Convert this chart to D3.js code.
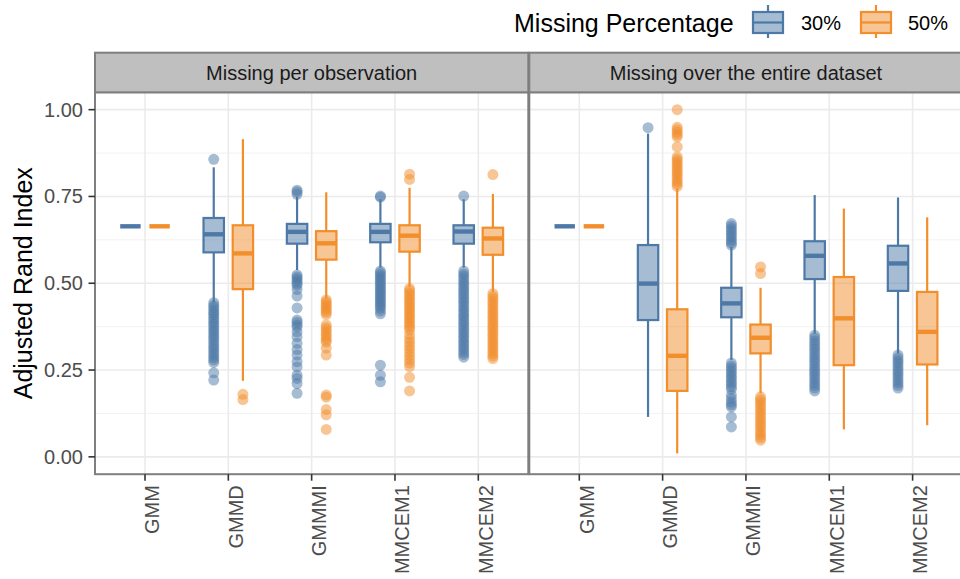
<!DOCTYPE html>
<html>
<head>
<meta charset="utf-8">
<script src="https://cdn.jsdelivr.net/npm/d3@7"></script>
<style>
    body { margin: 0; background: #ffffff; }
    text { font-family: "Liberation Sans", Arial, sans-serif; }
</style>
</head>
<body>
<div id="chart"></div>
<script>
// categories / labels
var methods = ["GMM", "GMMD", "GMMMI", "MMCEM1", "MMCEM2"];
var panels = ["Missing per observation", "Missing over the entire dataset"];
var groups = ["30%", "50%"];
var yTicks = [0, 0.25, 0.5, 0.75, 1];
var yMinor = [0.125, 0.375, 0.625, 0.875];

// box stats per method: [lower whisker, q1, median, q3, upper whisker]
var perObs30 = [
    [0.664, 0.664, 0.664, 0.664, 0.664],
    [0.445, 0.589, 0.641, 0.688, 0.834],
    [0.538, 0.614, 0.648, 0.671, 0.749],
    [0.545, 0.618, 0.648, 0.671, 0.742],
    [0.545, 0.614, 0.649, 0.667, 0.742]
];
var perObs50 = [
    [0.664, 0.664, 0.664, 0.664, 0.664],
    [0.219, 0.483, 0.586, 0.667, 0.915],
    [0.456, 0.568, 0.615, 0.650, 0.762],
    [0.490, 0.591, 0.637, 0.667, 0.775],
    [0.475, 0.582, 0.629, 0.660, 0.757]
];
var whole30 = [
    [0.664, 0.664, 0.664, 0.664, 0.664],
    [0.115, 0.394, 0.499, 0.610, 0.931],
    [0.279, 0.402, 0.442, 0.487, 0.605],
    [0.355, 0.512, 0.579, 0.621, 0.754],
    [0.298, 0.478, 0.557, 0.608, 0.747]
];
var whole50 = [
    [0.664, 0.664, 0.664, 0.664, 0.664],
    [0.010, 0.190, 0.291, 0.425, 0.773],
    [0.183, 0.298, 0.343, 0.381, 0.487],
    [0.079, 0.264, 0.399, 0.518, 0.715],
    [0.091, 0.266, 0.360, 0.475, 0.690]
];

// outliers per method
var perObs30Out = [
    [],
    [0.857, 0.444, 0.436, 0.43, 0.422, 0.415, 0.41, 0.402, 0.395, 0.388, 0.381, 0.374, 0.366, 0.36,
        0.352, 0.345, 0.338, 0.33, 0.322, 0.315, 0.308, 0.3, 0.293, 0.286, 0.279, 0.272, 0.242, 0.221],
    [0.768, 0.763, 0.756, 0.524, 0.518, 0.512, 0.506, 0.5, 0.494, 0.482, 0.463, 0.429, 0.394, 0.388,
        0.38, 0.374, 0.36, 0.346, 0.327, 0.309, 0.293, 0.274, 0.259, 0.235, 0.226, 0.211, 0.183],
    [0.751, 0.748, 0.535, 0.53, 0.524, 0.518, 0.512, 0.506, 0.5, 0.494, 0.488, 0.482, 0.476, 0.47,
        0.464, 0.458, 0.452, 0.446, 0.44, 0.434, 0.428, 0.42, 0.412, 0.264, 0.235, 0.216],
    [0.751, 0.535, 0.527, 0.52, 0.512, 0.505, 0.497, 0.49, 0.482, 0.475, 0.467, 0.46, 0.452, 0.445,
        0.437, 0.43, 0.422, 0.415, 0.407, 0.4, 0.392, 0.385, 0.377, 0.37, 0.362, 0.355, 0.347, 0.34,
        0.332, 0.325, 0.317, 0.31, 0.302, 0.295, 0.287]
];
var perObs50Out = [
    [],
    [0.18, 0.165],
    [0.452, 0.446, 0.44, 0.434, 0.428, 0.422, 0.416, 0.41, 0.38, 0.372, 0.365, 0.358, 0.35, 0.343,
        0.336, 0.33, 0.313, 0.293, 0.178, 0.172, 0.136, 0.121, 0.079],
    [0.814, 0.799, 0.485, 0.478, 0.471, 0.464, 0.457, 0.45, 0.443, 0.436, 0.429, 0.422, 0.415, 0.408,
        0.401, 0.394, 0.387, 0.38, 0.373, 0.366, 0.352, 0.34, 0.33, 0.32, 0.31, 0.3, 0.29, 0.28, 0.27,
        0.26, 0.229, 0.19],
    [0.813, 0.47, 0.462, 0.455, 0.447, 0.44, 0.432, 0.425, 0.417, 0.41, 0.402, 0.395, 0.387, 0.38,
        0.372, 0.365, 0.357, 0.35, 0.342, 0.335, 0.327, 0.32, 0.312, 0.305, 0.297, 0.29, 0.283]
];
var whole30Out = [
    [],
    [0.948],
    [0.672, 0.665, 0.658, 0.651, 0.644, 0.637, 0.63, 0.623, 0.616, 0.61, 0.27, 0.262, 0.255, 0.247,
        0.24, 0.232, 0.225, 0.217, 0.21, 0.202, 0.195, 0.178, 0.168, 0.158, 0.15, 0.144, 0.115, 0.086],
    [0.35, 0.342, 0.334, 0.326, 0.318, 0.31, 0.302, 0.294, 0.286, 0.278, 0.27, 0.262, 0.254, 0.246,
        0.238, 0.23, 0.222, 0.214, 0.206, 0.198, 0.19],
    [0.293, 0.285, 0.277, 0.27, 0.262, 0.254, 0.246, 0.238, 0.23, 0.222, 0.214, 0.206, 0.198]
];
var whole50Out = [
    [],
    [1.0, 0.949, 0.942, 0.935, 0.928, 0.922, 0.893, 0.864, 0.857, 0.85, 0.843, 0.836, 0.829, 0.822,
        0.815, 0.808, 0.8, 0.793, 0.786, 0.779],
    [0.547, 0.528, 0.173, 0.165, 0.158, 0.15, 0.142, 0.134, 0.126, 0.118, 0.11, 0.102, 0.094, 0.086,
        0.078, 0.07, 0.062, 0.055, 0.048],
    [],
    []
];

var colors = ["#4E79A7", "#F28E2B"];
var fills = ["rgba(78,121,167,0.5)", "rgba(242,142,43,0.5)"];

var W = 960, H = 579;
var panelW = 433.3;
var panelX = [95, 529.3];
var panelTop = 92.3, panelBottom = 474.2, stripTop = 52.7;

var svg = d3.select("#chart").append("svg")
    .attr("width", W)
    .attr("height", H);

svg.append("rect").attr("width", W).attr("height", H).attr("fill", "#ffffff");

var y = d3.scaleLinear().domain([-0.05, 1.05]).range([panelBottom, panelTop]);

var panelData = [
    { stats: [perObs30, perObs50], outs: [perObs30Out, perObs50Out] },
    { stats: [whole30, whole50], outs: [whole30Out, whole50Out] }
];

panelData.forEach(function (pd, p) {
    var x0 = panelX[p];
    var x = d3.scalePoint().domain(methods).range([x0, x0 + panelW]).padding(0.6);
    var step = x.step();
    var g = svg.append("g");

    // grid
    g.selectAll(".minor").data(yMinor).enter().append("line")
        .attr("x1", x0).attr("x2", x0 + panelW)
        .attr("y1", function (d) { return y(d); })
        .attr("y2", function (d) { return y(d); })
        .attr("stroke", "#F0F0F0").attr("stroke-width", 0.9);
    g.selectAll(".major").data(yTicks).enter().append("line")
        .attr("x1", x0).attr("x2", x0 + panelW)
        .attr("y1", function (d) { return y(d); })
        .attr("y2", function (d) { return y(d); })
        .attr("stroke", "#EBEBEB").attr("stroke-width", 1.6);
    g.selectAll(".vmajor").data(methods).enter().append("line")
        .attr("x1", function (d) { return x(d); })
        .attr("x2", function (d) { return x(d); })
        .attr("y1", panelTop).attr("y2", panelBottom)
        .attr("stroke", "#EBEBEB").attr("stroke-width", 1.6);

    // boxes
    groups.forEach(function (grp, k) {
        var off = (k === 0 ? -1 : 1) * 0.175 * step;
        var bw = 0.245 * step;
        var stats = pd.stats[k];
        var outs = pd.outs[k];

        methods.forEach(function (m, i) {
            var cx = x(m) + off;
            outs[i].forEach(function (v) {
                g.append("circle")
                    .attr("cx", cx).attr("cy", y(v)).attr("r", 5.5)
                    .attr("fill", colors[k]).attr("fill-opacity", 0.5);
            });
        });

        var bx = g.selectAll(".box" + k).data(stats).enter().append("g");
        bx.append("line")
            .attr("x1", function (d, i) { return x(methods[i]) + off; })
            .attr("x2", function (d, i) { return x(methods[i]) + off; })
            .attr("y1", function (d) { return y(d[3]); })
            .attr("y2", function (d) { return y(d[4]); })
            .attr("stroke", colors[k]).attr("stroke-width", 2.2);
        bx.append("line")
            .attr("x1", function (d, i) { return x(methods[i]) + off; })
            .attr("x2", function (d, i) { return x(methods[i]) + off; })
            .attr("y1", function (d) { return y(d[1]); })
            .attr("y2", function (d) { return y(d[0]); })
            .attr("stroke", colors[k]).attr("stroke-width", 2.2);
        bx.append("rect")
            .attr("x", function (d, i) { return x(methods[i]) + off - bw / 2; })
            .attr("width", bw)
            .attr("y", function (d) { return y(d[3]); })
            .attr("height", function (d) { return y(d[1]) - y(d[3]); })
            .attr("fill", fills[k])
            .attr("stroke", colors[k]).attr("stroke-width", 2.2);
        bx.append("line")
            .attr("x1", function (d, i) { return x(methods[i]) + off - bw / 2; })
            .attr("x2", function (d, i) { return x(methods[i]) + off + bw / 2; })
            .attr("y1", function (d) { return y(d[2]); })
            .attr("y2", function (d) { return y(d[2]); })
            .attr("stroke", colors[k]).attr("stroke-width", 4.4);
    });

    // border
    g.append("rect")
        .attr("x", x0).attr("y", panelTop)
        .attr("width", panelW).attr("height", panelBottom - panelTop)
        .attr("fill", "none").attr("stroke", "#7F7F7F").attr("stroke-width", 2);

    // strip
    g.append("rect")
        .attr("x", x0).attr("y", stripTop)
        .attr("width", panelW).attr("height", panelTop - stripTop)
        .attr("fill", "#BFBFBF").attr("stroke", "#7F7F7F").attr("stroke-width", 2);
    g.append("text")
        .attr("x", x0 + panelW / 2)
        .attr("y", (stripTop + panelTop) / 2)
        .attr("dy", "0.35em")
        .attr("text-anchor", "middle")
        .attr("font-size", "20px")
        .attr("fill", "#1A1A1A")
        .text(panels[p]);

    // x axis
    var xa = g.append("g").attr("transform", "translate(0," + panelBottom + ")");
    xa.selectAll("line").data(methods).enter().append("line")
        .attr("x1", function (d) { return x(d); })
        .attr("x2", function (d) { return x(d); })
        .attr("y1", 0).attr("y2", 6.5)
        .attr("stroke", "#333333").attr("stroke-width", 1.6);
    xa.selectAll("text").data(methods).enter().append("text")
        .attr("transform", function (d) { return "translate(" + x(d) + ",11) rotate(-90)"; })
        .attr("dy", "0.72em")
        .attr("text-anchor", "end")
        .attr("font-size", "20px")
        .attr("fill", "#4D4D4D")
        .text(function (d) { return d; });
});

// y axis
var ya = svg.append("g");
ya.selectAll("line").data(yTicks).enter().append("line")
    .attr("x1", 88.5).attr("x2", 95)
    .attr("y1", function (d) { return y(d); })
    .attr("y2", function (d) { return y(d); })
    .attr("stroke", "#333333").attr("stroke-width", 1.6);
ya.selectAll("text").data(yTicks).enter().append("text")
    .attr("x", 83)
    .attr("y", function (d) { return y(d); })
    .attr("dy", "0.35em")
    .attr("text-anchor", "end")
    .attr("font-size", "20px")
    .attr("fill", "#4D4D4D")
    .text(function (d) { return d3.format(".2f")(d); });

svg.append("text")
    .attr("transform", "translate(32," + ((panelTop + panelBottom) / 2) + ") rotate(-90)")
    .attr("text-anchor", "middle")
    .attr("font-size", "25px")
    .attr("fill", "#000000")
    .text("Adjusted Rand Index");

// legend
svg.append("text")
    .attr("x", 514).attr("y", 31.5)
    .attr("font-size", "25px")
    .attr("fill", "#000000")
    .text("Missing Percentage");

var keyX = [753, 861];
var labX = [801, 908];
groups.forEach(function (grp, k) {
    var kx = keyX[k];
    var lg = svg.append("g");
    lg.append("line")
        .attr("x1", kx + 15).attr("x2", kx + 15)
        .attr("y1", 5).attr("y2", 38)
        .attr("stroke", colors[k]).attr("stroke-width", 2.2);
    lg.append("rect")
        .attr("x", kx).attr("y", 12)
        .attr("width", 30).attr("height", 21)
        .attr("fill", "#ffffff");
    lg.append("rect")
        .attr("x", kx).attr("y", 12)
        .attr("width", 30).attr("height", 21)
        .attr("fill", fills[k])
        .attr("stroke", colors[k]).attr("stroke-width", 2.2);
    lg.append("line")
        .attr("x1", kx).attr("x2", kx + 30)
        .attr("y1", 22.5).attr("y2", 22.5)
        .attr("stroke", colors[k]).attr("stroke-width", 2.2);
    lg.append("text")
        .attr("x", labX[k]).attr("y", 29.5)
        .attr("font-size", "20px")
        .attr("fill", "#000000")
        .text(grp);
});
</script>
</body>
</html>
